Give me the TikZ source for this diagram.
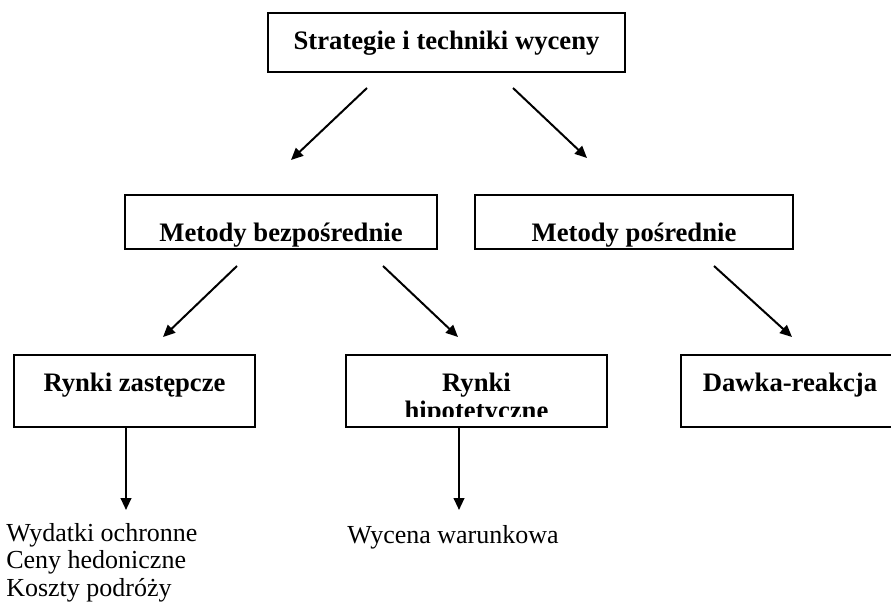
\documentclass[tikz,border=0pt]{standalone}
\usepackage{fontspec}
\setmainfont{Liberation Serif}
\usetikzlibrary{arrows.meta}

\tikzset{
  box/.style={draw, rectangle, line width=2pt, inner sep=0pt},
  lbl/.style={font=\fontsize{20}{20}\selectfont\bfseries, anchor=base, inner sep=0pt},
  item/.style={font=\fontsize{19.5}{20}\selectfont, anchor=base west, inner sep=0pt},
}

\begin{document}
\begin{tikzpicture}[x=0.75pt, y=-0.75pt]
\useasboundingbox (0,0) rectangle (891,605);
\clip (0,0) rectangle (891,605);

% boxes
\begin{scope}[every node/.style={box}]
\node[minimum width=267.75pt, minimum height=44.25pt] (strat) at (446.5,42.5) {};
\node[minimum width=234pt, minimum height=40.5pt] (bezp) at (281,222) {};
\node[minimum width=238.5pt, minimum height=40.5pt] (posr) at (634,222) {};
\node[minimum width=180.75pt, minimum height=54pt] (zast) at (134.5,391) {};
\node[minimum width=195.75pt, minimum height=54pt] (hipo) at (476.5,391) {};
\node[minimum width=163.5pt, minimum height=54pt] (dawka) at (790,391) {};
\end{scope}

% box labels
\node[lbl] (stratT) at (446.5,50) {Strategie i techniki wyceny};
\node[lbl] (bezpT) at (281,242) {Metody bezpośrednie};
\node[lbl] (posrT) at (634,242) {Metody pośrednie};
\node[lbl] (zastT) at (134.5,392) {Rynki zastępcze};
\node[lbl] (dawkaT) at (790,392) {Dawka-reakcja};
\begin{scope}
\clip (348,358) rectangle (605,416);
\node[lbl] (hipoT1) at (476.5,392) {Rynki};
\node[lbl] (hipoT2) at (476.5,419) {hipotetyczne};
\end{scope}

% loose arrow ends
\coordinate (a1s) at (367,88);  \coordinate (a1e) at (291,160);
\coordinate (a2s) at (513,88);  \coordinate (a2e) at (587,158);
\coordinate (a3s) at (237,266); \coordinate (a3e) at (163,337);
\coordinate (a4s) at (383,266); \coordinate (a4e) at (458,337);
\coordinate (a5s) at (714,266); \coordinate (a5e) at (792,337);
\coordinate (d1e) at (126,510);
\coordinate (d2e) at (459,510);

\begin{scope}[every edge/.style={draw, line width=1.5pt, -{Triangle[length=9pt,width=8pt]}}]
    \path (a1s) edge (a1e);
    \path (a2s) edge (a2e);
    \path (a3s) edge (a3e);
    \path (a4s) edge (a4e);
    \path (a5s) edge (a5e);
    \path (zast.south -| d1e) edge (d1e);
    \path (hipo.south -| d2e) edge (d2e);
\end{scope}

% results
\node[item] (wyd) at (6,541) {Wydatki ochronne};
\node[item] (ceny) at (6,568) {Ceny hedoniczne};
\node[item] (kosz) at (6,596) {Koszty podróży};
\node[item] (wyc) at (347,543) {Wycena warunkowa};
\end{tikzpicture}
\end{document}
